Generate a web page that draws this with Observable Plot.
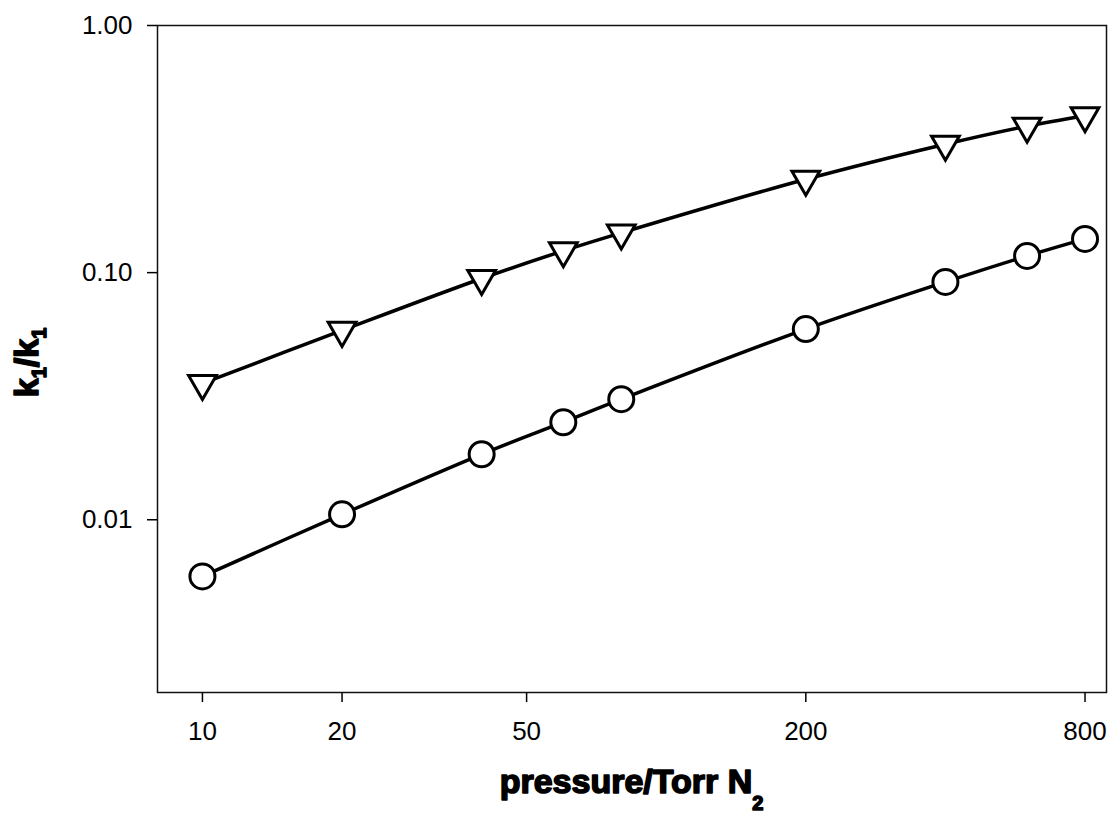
<!DOCTYPE html>
<html><head><meta charset="utf-8">
<script src="https://cdn.jsdelivr.net/npm/d3@7"></script>
<script src="https://cdn.jsdelivr.net/npm/@observablehq/plot@0.6"></script>
<style>body{margin:0;background:#fff} svg{display:block}</style>
</head><body><div id="chart"></div>
<script>
// pressure / Torr N2
const pressure = [10, 20, 40, 60, 80, 200, 400, 600, 800];
// upper series (inverted triangles)
const triangleValues = [0.0356, 0.0584, 0.0947, 0.1225, 0.1448, 0.2386, 0.3309, 0.3915, 0.4317];
// lower series (open circles)
const circleValues = [0.00590, 0.01052, 0.01841, 0.02481, 0.03076, 0.05913, 0.09169, 0.1168, 0.1369];
const xTicks = [10, 20, 50, 200, 800];
const xTickLabels = ["10", "20", "50", "200", "800"];
const yTicks = [1, 0.1, 0.01];
const yTickLabels = ["1.00", "0.10", "0.01"];

const tri = pressure.map((p, i) => ({p, v: triangleValues[i]}));
const circ = pressure.map((p, i) => ({p, v: circleValues[i]}));

const W = 1109, H = 813;
const mL = 157, mR = 3, mT = 25, mB = 121;
const FONT = "'Liberation Sans', Arial, sans-serif";

const chart = Plot.plot({
  width: W, height: H,
  marginLeft: mL, marginRight: mR, marginTop: mT, marginBottom: mB,
  style: {fontFamily: FONT, background: "#fff", color: "#000"},
  x: {type: "log", domain: [8, 890]},
  y: {type: "log", domain: [0.002, 1]},
  marks: [
    Plot.frame({stroke: "#111", strokeWidth: 1.5}),
    Plot.axisX(xTicks, {tickSize: 10, strokeWidth: 1.5, tickFormat: () => "", label: null}),
    Plot.text(xTicks, {x: d => d, text: (d, i) => xTickLabels[i], frameAnchor: "bottom", lineAnchor: "middle", dy: 39, fontSize: 26, fill: "#000"}),
    Plot.axisY(yTicks, {tickSize: 10, tickPadding: 15, fontSize: 26, strokeWidth: 1.5, tickFormat: d => yTickLabels[yTicks.indexOf(d)], label: null}),
    Plot.line(tri, {x: "p", y: "v", curve: "catmull-rom", stroke: "#000", strokeWidth: 3.5}),
    Plot.line(circ, {x: "p", y: "v", curve: "catmull-rom", stroke: "#000", strokeWidth: 3.5}),
    Plot.dot(tri, {x: "p", y: "v", symbol: "triangle", rotate: 180, r: 10.3, fill: "#fff", stroke: "#000", strokeWidth: 3}),
    Plot.dot(circ, {x: "p", y: "v", r: 12.5, fill: "#fff", stroke: "#000", strokeWidth: 3})
  ]
});
document.getElementById("chart").appendChild(chart);

const svg = d3.select(chart);
const labelStyle = s => s.attr("font-family", FONT)
  .attr("font-weight", "bold").attr("fill", "#000").attr("stroke", "#000").attr("stroke-width", 1.6)
  .attr("stroke-linejoin", "round");

const xl = svg.append("text")
  .attr("x", (mL + (W - mR)) / 2).attr("y", 793)
  .attr("text-anchor", "middle").attr("font-size", 34).call(labelStyle);
xl.append("tspan").text("pressure/Torr N");
xl.append("tspan").attr("font-size", 20).attr("dy", 17).text("2");

const yl = svg.append("text")
  .attr("transform", `translate(38,${(mT + (H - mB)) / 2 + 4}) rotate(-90)`)
  .attr("text-anchor", "middle").attr("font-size", 34).call(labelStyle);
yl.append("tspan").text("k");
yl.append("tspan").attr("font-size", 20).attr("dy", 8).text("1");
yl.append("tspan").attr("dy", -8).text("/k");
yl.append("tspan").attr("font-size", 20).attr("dy", 8).text("1");
</script>
</body></html>
